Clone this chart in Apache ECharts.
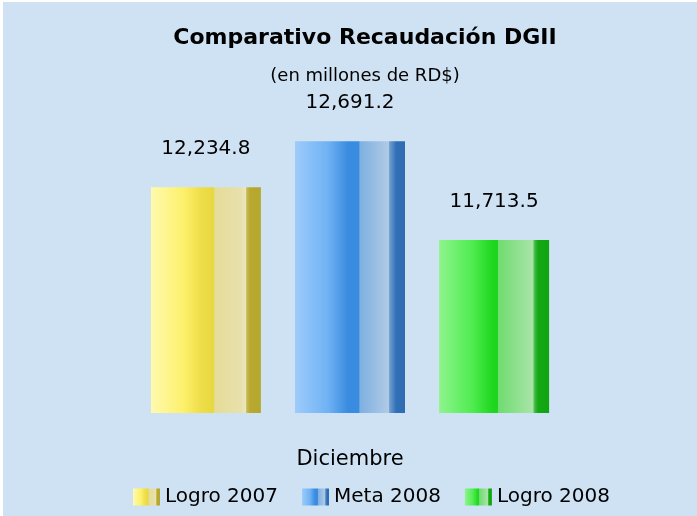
<!DOCTYPE html>
<html>
<head>
<meta charset="utf-8">
<script src="https://cdn.jsdelivr.net/npm/echarts@6/dist/echarts.min.js"></script>
<style>
  html, body { margin: 0; padding: 0; background: #ffffff; }
  #myChart { position: absolute; left: 3px; top: 2px; width: 694px; height: 514px; background: #cfe2f3; }
</style>
</head>
<body>
<div id="myChart"></div>
<script>
// datos del gráfico
const categorias = ['Diciembre'];
const nombresSeries = ['Logro 2007', 'Meta 2008', 'Logro 2008'];
const logro2007 = [12234.8];
const meta2008 = [12691.2];
const logro2008 = [11713.5];

// degradados tipo Excel (franjas verticales)
function franjas(stops) {
    return {
        type: 'linear', x: 0, y: 0, x2: 1, y2: 0,
        colorStops: stops.map(s => ({ offset: s[0], color: s[1] }))
    };
}
const amarillo = franjas([
    [0, '#fffaae'], [0.3, '#fdf06a'], [0.45, '#efde4a'], [0.57, '#e6d840'],
    [0.58, '#e5dc98'], [0.82, '#e8e0ac'], [0.86, '#ece6bc'], [0.87, '#c9bd58'],
    [0.9, '#b8a830'], [1, '#b4a82c']
]);
const azul = franjas([
    [0, '#9ecbfa'], [0.3, '#6fb2f4'], [0.48, '#3a8ce0'], [0.58, '#3a8ce0'],
    [0.59, '#7eb0e0'], [0.85, '#b0cae6'], [0.86, '#709ed0'], [0.92, '#3070b8'],
    [1, '#2e6cb0']
]);
const verde = franjas([
    [0, '#8ef48e'], [0.3, '#50ec50'], [0.48, '#20d820'], [0.53, '#1cd41c'],
    [0.54, '#70dc70'], [0.85, '#a8e4a8'], [0.87, '#40b840'], [0.9, '#14a814'],
    [1, '#10a410']
]);

const fuente = '"DejaVu Sans", Verdana, sans-serif';
const etiqueta = {
    show: true,
    position: 'top',
    distance: 28,
    color: '#000',
    fontFamily: fuente,
    fontSize: 20,
    formatter: p => p.value.toLocaleString('en-US', { minimumFractionDigits: 1, maximumFractionDigits: 1 })
};

let myChart = echarts.init(document.getElementById('myChart'));
myChart.setOption({
    animation: false,
    title: [
        {
            text: 'Comparativo Recaudación DGII',
            left: 357, top: 20, textAlign: 'center',
            textStyle: { fontFamily: fuente, fontSize: 22, fontWeight: 'bold', color: '#000' }
        },
        {
            text: '(en millones de RD$)',
            left: 357, top: 60, textAlign: 'center',
            textStyle: { fontFamily: fuente, fontSize: 18, fontWeight: 'normal', color: '#000' }
        }
    ],
    legend: {
        data: nombresSeries,
        icon: 'rect',
        left: 125,
        top: 480,
        itemWidth: 27,
        itemHeight: 17,
        itemGap: 24,
        textStyle: { fontFamily: fuente, fontSize: 20, color: '#000' }
    },
    grid: { left: 60, right: 60, top: 7, bottom: 103 },
    xAxis: {
        type: 'category',
        data: categorias,
        axisLine: { show: false },
        axisTick: { show: false },
        axisLabel: { margin: 36, fontFamily: fuente, fontSize: 21, color: '#000' }
    },
    yAxis: {
        type: 'value',
        min: 10000,
        max: 14000,
        show: false,
        splitLine: { show: false }
    },
    series: [
        { name: nombresSeries[0], type: 'bar', data: logro2007, barWidth: 110, barGap: '31%', itemStyle: { color: amarillo }, label: etiqueta },
        { name: nombresSeries[1], type: 'bar', data: meta2008, barWidth: 110, barGap: '31%', itemStyle: { color: azul }, label: etiqueta },
        { name: nombresSeries[2], type: 'bar', data: logro2008, barWidth: 110, barGap: '31%', itemStyle: { color: verde }, label: etiqueta }
    ]
});
</script>
</body>
</html>
